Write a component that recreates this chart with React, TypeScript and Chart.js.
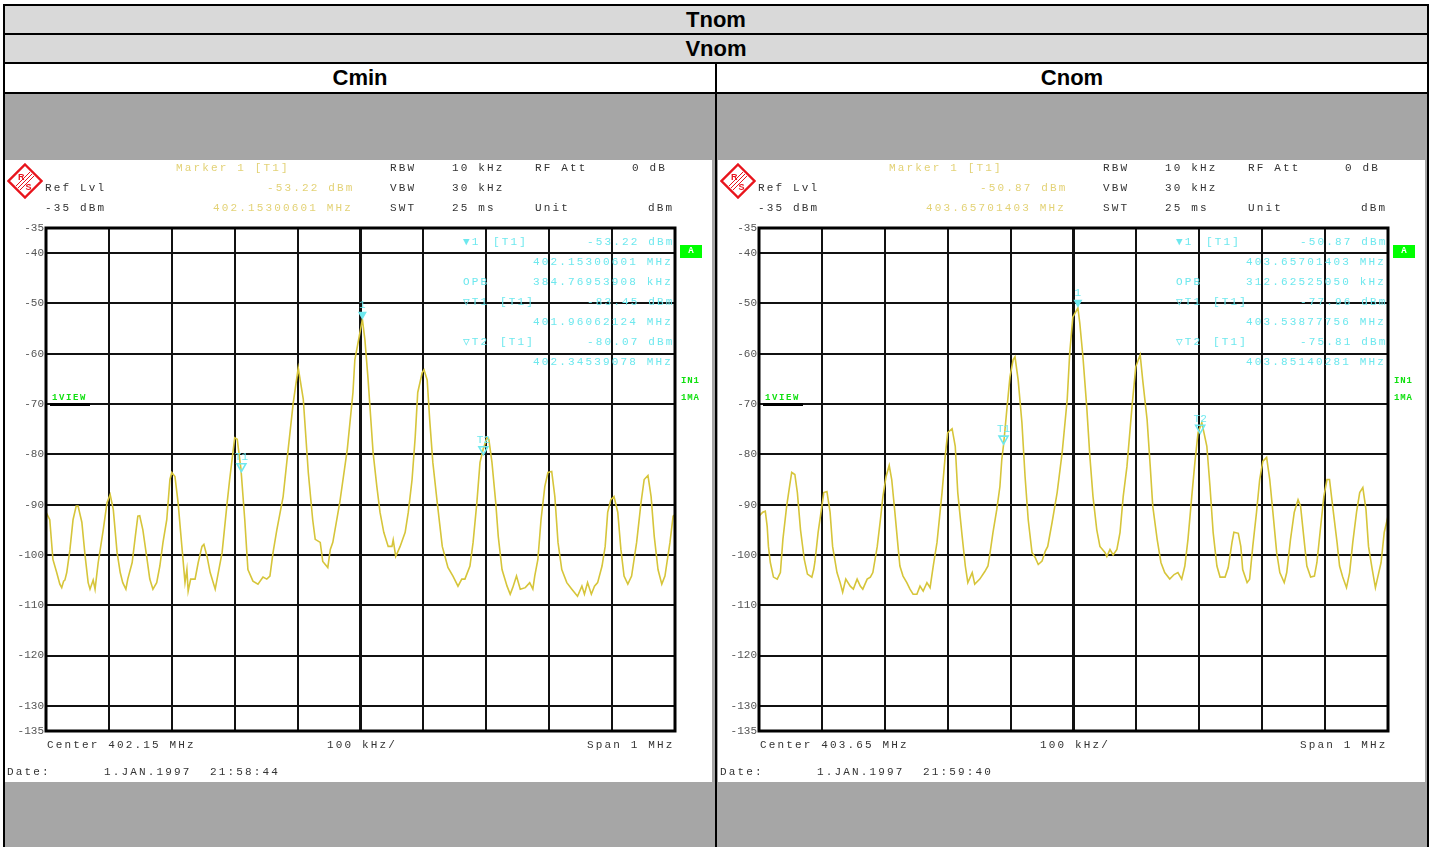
import React, { useEffect, useRef } from "react";
import { Chart, registerables } from "chart.js";

Chart.register(...registerables);

// ---------- data ----------
const Y_TICKS = [-135, -130, -120, -110, -100, -90, -80, -70, -60, -50, -40, -35];

// Cmin trace: frequency offset from centre (kHz) and level (dBm)
const CMIN_FREQ_KHZ = [
  -500, -494, -489, -483, -478, -475, -472, -470, -467, -462, -457, -452, -449, -443, -438, -433, -430, -425, -422, -417,
  -409, -403, -398, -393, -387, -382, -378, -373, -370, -363, -358, -354, -351, -346, -340, -335, -330, -324, -319, -314,
  -308, -303, -300, -295, -290, -284, -279, -276, -274, -270, -263, -258, -252, -249, -244, -239, -231, -228, -220, -212,
  -208, -200, -196, -190, -184, -179, -171, -163, -155, -149, -144, -139, -133, -123, -115, -107, -99, -91, -83, -76,
  -72, -64, -60, -52, -48, -44, -33, -21, -12, -9, 3, 7, 12, 15, 20, 26, 31, 37, 44, 50,
  52, 56, 63, 71, 76, 82, 87, 91, 98, 101, 106, 110, 115, 122, 130, 139, 147, 155, 161, 166,
  174, 179, 185, 190, 195, 201, 204, 209, 215, 219, 225, 233, 238, 242, 248, 254, 262, 269, 274, 277,
  282, 287, 293, 298, 304, 309, 314, 320, 328, 336, 345, 352, 356, 361, 367, 372, 377, 384, 389, 393,
  398, 403, 409, 414, 419, 425, 431, 439, 446, 451, 457, 462, 467, 473, 479, 484, 492, 497, 500,
];
const CMIN_LEVEL_DBM = [
  -91.5, -93, -100.9, -103.5, -105.8, -106.5, -105.2, -105, -103.5, -99, -93, -90.3, -90.3, -93.5, -100, -105.5, -106.8, -105, -106.8, -101.5,
  -95, -89.6, -88, -91, -99.5, -103.5, -105.5, -106.8, -104.8, -101.5, -96.3, -92.3, -92.2, -95, -100.3, -104.8, -106.8, -105.5, -102.2, -97.5,
  -93, -85, -83.6, -84.4, -89.6, -98.3, -105.5, -102.9, -107.2, -104.8, -104.8, -101.5, -98.3, -97.9, -100.3, -103.5, -106.8, -104.8, -99.5, -89.6,
  -85, -76.7, -77, -83, -93, -102.9, -105.2, -105.8, -104.4, -104.8, -104.2, -99.5, -95, -88.4, -79, -69.8, -62.8, -69, -83.6, -93,
  -96.9, -97.5, -101.3, -102.5, -98.9, -97.5, -89.6, -79, -67.7, -61.2, -53.2, -57.2, -65, -70.5, -79.6, -86.4, -91.5, -95.5, -98.3, -98.3,
  -97, -100.3, -98.3, -95.5, -91.5, -85, -76.5, -67.7, -63.8, -63.2, -65.2, -73.1, -81.6, -89.6, -98.3, -102.5, -104.2, -106.2, -104.8, -104.8,
  -102.2, -97.5, -89.6, -81.6, -79, -76.7, -77, -81.6, -89.6, -96.3, -102.9, -106.2, -107.8, -106.5, -104.2, -106.8, -106.5, -105.5, -106.8, -104.2,
  -100.9, -93, -86.4, -83.6, -83.4, -88.4, -97.5, -102.9, -105.5, -106.8, -108.2, -106.2, -107.8, -105.5, -107.8, -106.2, -105.5, -102.2, -98.3, -91.5,
  -89, -88.4, -91.5, -98.9, -104.2, -105.8, -104.2, -97.5, -89.6, -85, -84.2, -88.4, -96.3, -102.9, -105.8, -104.2, -97.5, -92.3, -92,
];

// Cnom trace
const CNOM_FREQ_KHZ = [
  -500, -494, -490, -487, -485, -482, -477, -471, -466, -462, -456, -451, -448, -443, -439, -434, -428, -423, -416, -413,
  -411, -406, -400, -397, -392, -387, -383, -376, -371, -367, -362, -355, -350, -344, -339, -335, -328, -323, -319, -312,
  -307, -303, -298, -293, -289, -284, -279, -276, -271, -265, -260, -255, -249, -244, -239, -233, -228, -223, -217, -209,
  -204, -200, -193, -188, -184, -177, -172, -168, -161, -157, -149, -141, -136, -133, -128, -122, -117, -114, -111, -106,
  -101, -96, -93, -88, -82, -77, -72, -66, -61, -56, -50, -45, -41, -34, -26, -18, -10, -6, -1, 7,
  10, 15, 21, 26, 31, 37, 42, 50, 53, 58, 63, 69, 74, 79, 85, 93, 99, 106, 110, 117,
  122, 126, 133, 139, 145, 153, 160, 166, 172, 177, 182, 188, 193, 198, 204, 212, 217, 222, 228, 233,
  241, 246, 252, 255, 262, 266, 269, 276, 280, 285, 291, 296, 301, 307, 312, 317, 323, 328, 335, 339,
  345, 351, 357, 361, 366, 371, 377, 383, 387, 393, 398, 403, 407, 412, 419, 423, 428, 434, 439, 444,
  450, 455, 460, 465, 469, 475, 480, 483, 489, 494, 500,
];
const CNOM_LEVEL_DBM = [
  -92.3, -91.5, -91.3, -94.3, -98.3, -101.5, -104.4, -104.8, -103.5, -96.9, -90.3, -86, -83.6, -84, -87.6, -95, -100.9, -103.8, -104.4, -102.9,
  -101.3, -95.5, -90.3, -87.6, -87.4, -91.5, -98.3, -103.5, -105.5, -107.4, -104.8, -106.2, -106.8, -104.8, -106.2, -106.8, -104.8, -104.4, -103.5, -98.3,
  -93, -88.4, -84.4, -82.2, -85, -91.5, -98.3, -102.2, -104.2, -105.5, -106.8, -107.8, -107.8, -106.2, -107.2, -105.5, -106.5, -102.2, -97.5, -87.6,
  -80.4, -75.7, -74.9, -78.4, -87.6, -96.3, -102.2, -105.5, -103.5, -105.8, -104.8, -103.3, -102.2, -99.9, -95.5, -91, -86.4, -81, -77.9, -71.1,
  -64.6, -61.2, -60.6, -65.2, -73.7, -84.4, -93, -99.5, -100.5, -101.9, -101.2, -99.3, -98.3, -93.5, -87.6, -79.6, -69.1, -59.8, -52.7, -50.9,
  -53.9, -60.6, -70.5, -80.4, -88.4, -95, -98.3, -99.5, -100.3, -98.9, -100, -98.9, -95.5, -88.4, -82.4, -70.5, -62.6, -60.2, -65.2, -73.1,
  -82.4, -90.3, -96.9, -101.5, -103.5, -104.8, -103.9, -103.5, -104.8, -102.2, -96.9, -88.4, -81.6, -75.7, -73.7, -78.4, -86.4, -95.5, -102.2, -104.4,
  -104.4, -102.5, -97.5, -95.5, -95.7, -98.3, -102.9, -105.5, -104.8, -98.3, -91.5, -85, -81.4, -80.6, -85, -91.5, -99.5, -103.5, -105.5, -103.5,
  -96.9, -91.5, -89, -90.3, -96.3, -102.2, -104.4, -104.2, -101.5, -94.3, -88.4, -85, -85, -90.3, -97.5, -102.2, -104.4, -106.5, -103.5, -97.5,
  -91.5, -87.6, -86.6, -91, -98.3, -102.9, -106.5, -104.8, -101.5, -95.5, -92.3,
];

// markers: offset (kHz) and level (dBm)
const MARKER_LABELS = ["1", "T1", "T2"];
const CMIN_MARKER_KHZ = [3.0, -189.38, 195.39];
const CMIN_MARKER_DBM = [-53.22, -83.45, -80.07];
const CNOM_MARKER_KHZ = [7.01, -111.22, 201.4];
const CNOM_MARKER_DBM = [-50.87, -77.96, -75.81];

// ---------- styles ----------
const MONO = "'Liberation Mono', 'DejaVu Sans Mono', monospace";
const TRACE = "#d6c53a";
const YELLOW = "#e3d276";
const CYAN = "#6ee8ee";
const GREEN = "#10e010";
const DARK = "#333";

function Txt({ x, y, c, s, ls = 2.15, size = 11, bold = false }: any) {
  return (
    <div
      style={{
        position: "absolute",
        left: x,
        top: y - 7,
        height: 14,
        lineHeight: "14px",
        fontFamily: MONO,
        fontSize: size,
        fontWeight: bold ? "bold" : "normal",
        letterSpacing: ls + "px",
        color: c,
        whiteSpace: "pre",
      }}
    >
      {s}
    </div>
  );
}

function Logo() {
  return (
    <svg style={{ position: "absolute", left: 2, top: 3 }} width={36} height={36} viewBox="0 0 36 36">
      <polygon points="18,1.5 34.5,18 18,34.5 1.5,18" fill="white" stroke="#e8141c" strokeWidth={2.4} />
      <line x1="25" y1="11" x2="11" y2="25" stroke="#e8141c" strokeWidth={1} />
      <line x1="27" y1="13" x2="13" y2="27" stroke="#e8141c" strokeWidth={1} />
      <line x1="23" y1="9" x2="9" y2="23" stroke="#e8141c" strokeWidth={1} />
      <text x="11" y="17" fontSize="9" fill="#e8141c" fontWeight="bold" fontFamily="Liberation Sans">R</text>
      <text x="18.5" y="27" fontSize="9" fill="#e8141c" fontWeight="bold" fontFamily="Liberation Sans">S</text>
    </svg>
  );
}

function Screen(props: any) {
  const ref = useRef<HTMLCanvasElement>(null);
  const { left, freqs, levels, mFreqs, mLevels, t } = props;

  useEffect(() => {
    const frame = {
      id: "frame",
      afterDraw(chart: any) {
        const { ctx, chartArea: a } = chart;
        ctx.save();
        ctx.strokeStyle = "#000";
        ctx.lineWidth = 3;
        ctx.strokeRect(a.left, a.top, a.right - a.left, a.bottom - a.top);
        ctx.restore();
      },
    };
    const markers = {
      id: "markers",
      afterDatasetsDraw(chart: any) {
        const { ctx } = chart;
        const x = chart.scales.x;
        const y = chart.scales.y;
        ctx.save();
        mFreqs.forEach((f: number, i: number) => {
          const px = x.getPixelForValue(f);
          const py = y.getPixelForValue(mLevels[i]);
          ctx.beginPath();
          ctx.moveTo(px, py);
          ctx.lineTo(px - 4.5, py - 8);
          ctx.lineTo(px + 4.5, py - 8);
          ctx.closePath();
          ctx.strokeStyle = CYAN;
          ctx.fillStyle = CYAN;
          ctx.lineWidth = 1.6;
          if (i === 0) ctx.fill();
          else ctx.stroke();
          ctx.font = "11px " + MONO;
          ctx.textAlign = "center";
          ctx.textBaseline = "bottom";
          ctx.fillText(MARKER_LABELS[i], px, py - 9);
        });
        ctx.restore();
      },
    };
    const chart = new Chart(ref.current as HTMLCanvasElement, {
      type: "line",
      data: {
        datasets: [
          {
            data: freqs.map((f: number, i: number) => ({ x: f, y: levels[i] })),
            borderColor: TRACE,
            borderWidth: 1.6,
            pointRadius: 0,
            tension: 0,
            fill: false,
          },
        ],
      },
      options: {
        animation: false,
        responsive: false,
        events: [],
        layout: { padding: { left: 0, top: 68, right: 37, bottom: 51 } },
        plugins: { legend: { display: false }, tooltip: { enabled: false } },
        scales: {
          x: {
            type: "linear",
            min: -500,
            max: 500,
            ticks: { display: false, stepSize: 100 },
            grid: {
              color: "#111",
              lineWidth: (c: any) => (c.tick && c.tick.value === 0 ? 3 : 2),
              drawTicks: false,
            },
            border: { display: false },
            afterFit: (s: any) => {
              s.height = 0;
            },
          },
          y: {
            type: "linear",
            min: -135,
            max: -35,
            afterBuildTicks: (s: any) => {
              s.ticks = Y_TICKS.map((v) => ({ value: v }));
            },
            ticks: { font: { family: "Liberation Mono", size: 11 }, color: "#555", padding: 2 },
            grid: { color: "#111", lineWidth: 2, drawTicks: false },
            border: { display: false },
            afterFit: (s: any) => {
              s.width = 41;
            },
          },
        },
      },
      plugins: [frame, markers],
    } as any);
    return () => chart.destroy();
  }, []);

  return (
    <div style={{ position: "absolute", left, top: 160, width: 707, height: 622, background: "#fff" }}>
      <canvas ref={ref} width={707} height={622} style={{ position: "absolute", left: 0, top: 0, display: "block" }} />
      <Logo />
      <Txt x={171} y={8} c={YELLOW} s="Marker 1 [T1]" />
      <Txt x={262} y={28} c={YELLOW} s={t.m1} />
      <Txt x={208} y={48} c={YELLOW} s={t.m1f} />
      <Txt x={40} y={28} c={DARK} s="Ref Lvl" />
      <Txt x={40} y={48} c={DARK} s="-35 dBm" />
      <Txt x={385} y={8} c={DARK} s="RBW" />
      <Txt x={447} y={8} c={DARK} s="10 kHz" />
      <Txt x={530} y={8} c={DARK} s="RF Att" />
      <Txt x={627} y={8} c={DARK} s="0 dB" />
      <Txt x={385} y={28} c={DARK} s="VBW" />
      <Txt x={447} y={28} c={DARK} s="30 kHz" />
      <Txt x={385} y={48} c={DARK} s="SWT" />
      <Txt x={447} y={48} c={DARK} s="25 ms" />
      <Txt x={530} y={48} c={DARK} s="Unit" />
      <Txt x={643} y={48} c={DARK} s="dBm" />

      <Txt x={458} y={82} c={CYAN} s={"\u25BC1"} />
      <Txt x={488} y={82} c={CYAN} s="[T1]" />
      <Txt x={582} y={82} c={CYAN} s={t.m1} />
      <Txt x={528} y={102} c={CYAN} s={t.m1f} />
      <Txt x={458} y={122} c={CYAN} s="OPB" />
      <Txt x={528} y={122} c={CYAN} s={t.opb} />
      <Txt x={458} y={142} c={CYAN} s={"\u25BDT1"} />
      <Txt x={495} y={142} c={CYAN} s="[T1]" />
      <Txt x={582} y={142} c={CYAN} s={t.t1} />
      <Txt x={528} y={162} c={CYAN} s={t.t1f} />
      <Txt x={458} y={182} c={CYAN} s={"\u25BDT2"} />
      <Txt x={495} y={182} c={CYAN} s="[T1]" />
      <Txt x={582} y={182} c={CYAN} s={t.t2} />
      <Txt x={528} y={202} c={CYAN} s={t.t2f} />

      <div
        style={{
          position: "absolute",
          left: 675,
          top: 85,
          width: 22,
          height: 13,
          background: "#00ff00",
          color: "#fff",
          fontFamily: MONO,
          fontWeight: "bold",
          fontSize: 9,
          lineHeight: "13px",
          textAlign: "center",
        }}
      >
        A
      </div>
      <Txt x={676} y={221} c={GREEN} s="IN1" size={9} ls={0.8} bold />
      <Txt x={676} y={238} c={GREEN} s="1MA" size={9} ls={0.8} bold />
      <Txt x={47} y={238} c={GREEN} s="1VIEW" size={9} ls={1.6} bold />
      <div style={{ position: "absolute", left: 45, top: 243, width: 40, height: 3, background: "#000" }} />

      <Txt x={42} y={585} c={DARK} s={t.center} />
      <Txt x={322} y={585} c={DARK} s="100 kHz/" />
      <Txt x={582} y={585} c={DARK} s="Span 1 MHz" />
      <Txt x={2} y={612} c={DARK} s="Date:" />
      <Txt x={99} y={612} c={DARK} s="1.JAN.1997" />
      <Txt x={205} y={612} c={DARK} s={t.time} />
    </div>
  );
}

const CMIN_TEXT = {
  m1: "-53.22 dBm",
  m1f: "402.15300601 MHz",
  opb: "384.76953908 kHz",
  t1: "-83.45 dBm",
  t1f: "401.96062124 MHz",
  t2: "-80.07 dBm",
  t2f: "402.34539078 MHz",
  center: "Center 402.15 MHz",
  time: "21:58:44",
};
const CNOM_TEXT = {
  m1: "-50.87 dBm",
  m1f: "403.65701403 MHz",
  opb: "312.62525050 kHz",
  t1: "-77.96 dBm",
  t1f: "403.53877756 MHz",
  t2: "-75.81 dBm",
  t2f: "403.85140281 MHz",
  center: "Center 403.65 MHz",
  time: "21:59:40",
};

const HEAD: any = {
  position: "absolute",
  boxSizing: "border-box",
  border: "2px solid #000",
  fontFamily: "'Liberation Sans', Arial, sans-serif",
  fontWeight: "bold",
  fontSize: 22,
  textAlign: "center",
  color: "#000",
};

export default function App() {
  return (
    <div style={{ position: "absolute", left: 0, top: 0, width: 1437, height: 847, overflow: "hidden", background: "#fff" }}>
      <div style={{ ...HEAD, left: 3, top: 4, width: 1426, height: 31, background: "#d9d9d9", lineHeight: "27px" }}>Tnom</div>
      <div style={{ ...HEAD, left: 3, top: 33, width: 1426, height: 31, background: "#d9d9d9", lineHeight: "27px" }}>Vnom</div>
      <div style={{ ...HEAD, left: 3, top: 62, width: 714, height: 32, background: "#fff", lineHeight: "28px" }}>Cmin</div>
      <div style={{ ...HEAD, left: 715, top: 62, width: 714, height: 32, background: "#fff", lineHeight: "28px" }}>Cnom</div>
      <div style={{ ...HEAD, left: 3, top: 92, width: 714, height: 800, background: "#a6a6a6" }} />
      <div style={{ ...HEAD, left: 715, top: 92, width: 714, height: 800, background: "#a6a6a6" }} />
      <Screen
        left={5}
        freqs={CMIN_FREQ_KHZ}
        levels={CMIN_LEVEL_DBM}
        mFreqs={CMIN_MARKER_KHZ}
        mLevels={CMIN_MARKER_DBM}
        t={CMIN_TEXT}
      />
      <Screen
        left={718}
        freqs={CNOM_FREQ_KHZ}
        levels={CNOM_LEVEL_DBM}
        mFreqs={CNOM_MARKER_KHZ}
        mLevels={CNOM_MARKER_DBM}
        t={CNOM_TEXT}
      />
    </div>
  );
}
